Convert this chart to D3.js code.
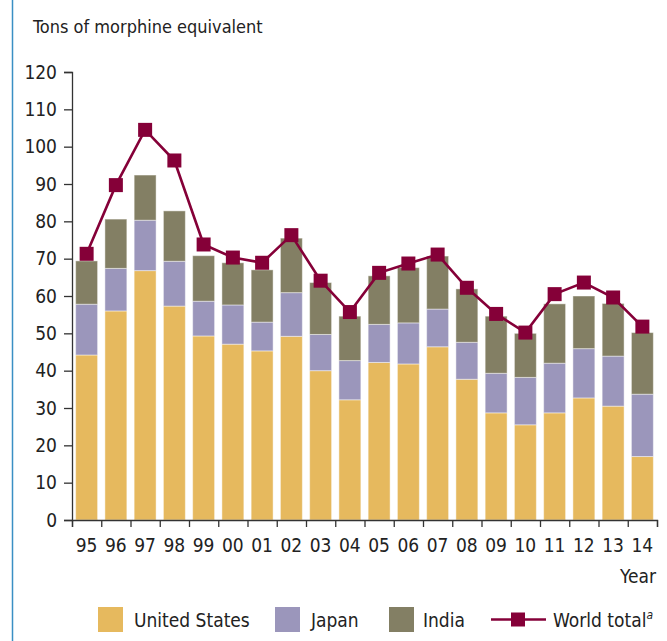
<!DOCTYPE html>
<html>
<head>
<meta charset="utf-8">
<script src="https://cdn.jsdelivr.net/npm/d3@7/dist/d3.min.js"></script>
<style>
  body { margin: 0; background: #fff; }
  svg text { font-family: "Liberation Sans Narrow", "DejaVu Sans Condensed", sans-serif; fill: #222; }
</style>
</head>
<body>
<div id="chart"></div>
<script>
var years = ["95","96","97","98","99","00","01","02","03","04","05","06","07","08","09","10","11","12","13","14"];
var unitedStates = [44.2, 56.0, 66.8, 57.3, 49.3, 47.1, 45.3, 49.2, 40.0, 32.2, 42.2, 41.8, 46.4, 37.7, 28.7, 25.5, 28.7, 32.7, 30.5, 17.0];
var japanTop = [57.8, 67.4, 80.3, 69.3, 58.6, 57.6, 53.0, 60.9, 49.7, 42.7, 52.4, 52.8, 56.5, 47.6, 39.3, 38.2, 42.0, 45.9, 43.9, 33.7];
var indiaTop = [69.4, 80.6, 92.4, 82.8, 70.8, 68.9, 67.0, 75.5, 63.6, 54.6, 65.4, 67.6, 70.7, 61.9, 54.6, 50.0, 57.9, 60.0, 58.0, 50.2];
var worldTotal = [71.3, 89.7, 104.5, 96.3, 73.8, 70.3, 68.9, 76.3, 64.1, 55.7, 66.2, 68.7, 71.1, 62.2, 55.2, 50.2, 60.5, 63.6, 59.6, 51.8];
var yTicks = [0, 10, 20, 30, 40, 50, 60, 70, 80, 90, 100, 110, 120];

var colors = { us: "#e6b95e", japan: "#9b96bb", india: "#837f64", world: "#850038" };

var svg = d3.select("#chart").append("svg")
	.attr("width", 667)
	.attr("height", 641);

// blue rule on the left edge
svg.append("line")
	.attr("x1", 12.5).attr("x2", 12.5)
	.attr("y1", 0).attr("y2", 641)
	.attr("stroke", "#3a8fc4")
	.attr("stroke-width", 1.5);

var x = d3.scaleBand()
	.domain(years)
	.range([72, 657])
	.paddingInner(0.25)
	.paddingOuter(0.125);

var y = d3.scaleLinear()
	.domain([0, 120])
	.range([520, 72]);

// stacked segments: [bottom, top]
var segments = [];
years.forEach(function(yr, i) {
	segments.push({ year: yr, y0: 0, y1: unitedStates[i], color: colors.us });
	segments.push({ year: yr, y0: unitedStates[i], y1: japanTop[i], color: colors.japan });
	segments.push({ year: yr, y0: japanTop[i], y1: indiaTop[i], color: colors.india });
});

svg.append("g").selectAll("rect")
	.data(segments)
	.enter().append("rect")
	.attr("x", function(d) { return x(d.year); })
	.attr("width", x.bandwidth())
	.attr("y", function(d) { return y(d.y1); })
	.attr("height", function(d) { return y(d.y0) - y(d.y1); })
	.attr("fill", function(d) { return d.color; })
	.attr("stroke", "rgba(255,255,255,0.45)")
	.attr("stroke-width", 1);

// axes
var yAxis = d3.axisLeft(y).tickValues(yTicks).tickSize(8).tickPadding(7);
var gy = svg.append("g")
	.attr("transform", "translate(72,0)")
	.call(yAxis);
gy.select(".domain").attr("stroke", "#333").attr("stroke-width", 1.3);
gy.selectAll(".tick line").attr("stroke", "#333").attr("stroke-width", 1.3);
gy.selectAll(".tick text").attr("font-size", "19px").attr("font-family", null);

var xEdges = d3.scaleLinear().domain([0, years.length]).range([72, 657]);
var gx = svg.append("g")
	.attr("transform", "translate(0,520)")
	.call(d3.axisBottom(xEdges).ticks(20).tickSize(7).tickFormat(""));
gx.select(".domain").attr("stroke", "#333").attr("stroke-width", 1.3);
gx.selectAll(".tick line").attr("stroke", "#333").attr("stroke-width", 1.3);

svg.append("g").selectAll("text")
	.data(years)
	.enter().append("text")
	.attr("x", function(d) { return x(d) + x.bandwidth() / 2; })
	.attr("y", 552)
	.attr("text-anchor", "middle")
	.attr("font-size", "19px")
	.text(function(d) { return d; });

svg.append("text")
	.attr("x", 656)
	.attr("y", 583)
	.attr("text-anchor", "end")
	.attr("font-size", "19px")
	.text("Year");

svg.append("text")
	.attr("x", 33)
	.attr("y", 33)
	.attr("font-size", "18px")
	.text("Tons of morphine equivalent");

// world total line
var line = d3.line()
	.x(function(d, i) { return x(years[i]) + x.bandwidth() / 2; })
	.y(function(d) { return y(d); });

svg.append("path")
	.datum(worldTotal)
	.attr("fill", "none")
	.attr("stroke", colors.world)
	.attr("stroke-width", 2.6)
	.attr("d", line);

svg.append("g").selectAll("rect")
	.data(worldTotal)
	.enter().append("rect")
	.attr("x", function(d, i) { return x(years[i]) + x.bandwidth() / 2 - 7; })
	.attr("y", function(d) { return y(d) - 7; })
	.attr("width", 14)
	.attr("height", 14)
	.attr("fill", colors.world);

// legend
var legend = svg.append("g");
var swatches = [
	{ label: "United States", color: colors.us, x: 98, tx: 134 },
	{ label: "Japan", color: colors.japan, x: 275, tx: 311 },
	{ label: "India", color: colors.india, x: 389, tx: 423 }
];
swatches.forEach(function(s) {
	legend.append("rect")
		.attr("x", s.x).attr("y", 607)
		.attr("width", 25).attr("height", 25)
		.attr("fill", s.color);
	legend.append("text")
		.attr("x", s.tx).attr("y", 627)
		.attr("font-size", "19px")
		.text(s.label);
});
legend.append("line")
	.attr("x1", 491).attr("x2", 546)
	.attr("y1", 619.5).attr("y2", 619.5)
	.attr("stroke", colors.world)
	.attr("stroke-width", 2.6);
legend.append("rect")
	.attr("x", 511).attr("y", 612.5)
	.attr("width", 14).attr("height", 14)
	.attr("fill", colors.world);
var wt = legend.append("text")
	.attr("x", 553).attr("y", 627)
	.attr("font-size", "19px")
	.text("World total");
wt.append("tspan")
	.attr("dy", -8)
	.attr("font-size", "12px")
	.attr("font-style", "italic")
	.text("a");
</script>
</body>
</html>
